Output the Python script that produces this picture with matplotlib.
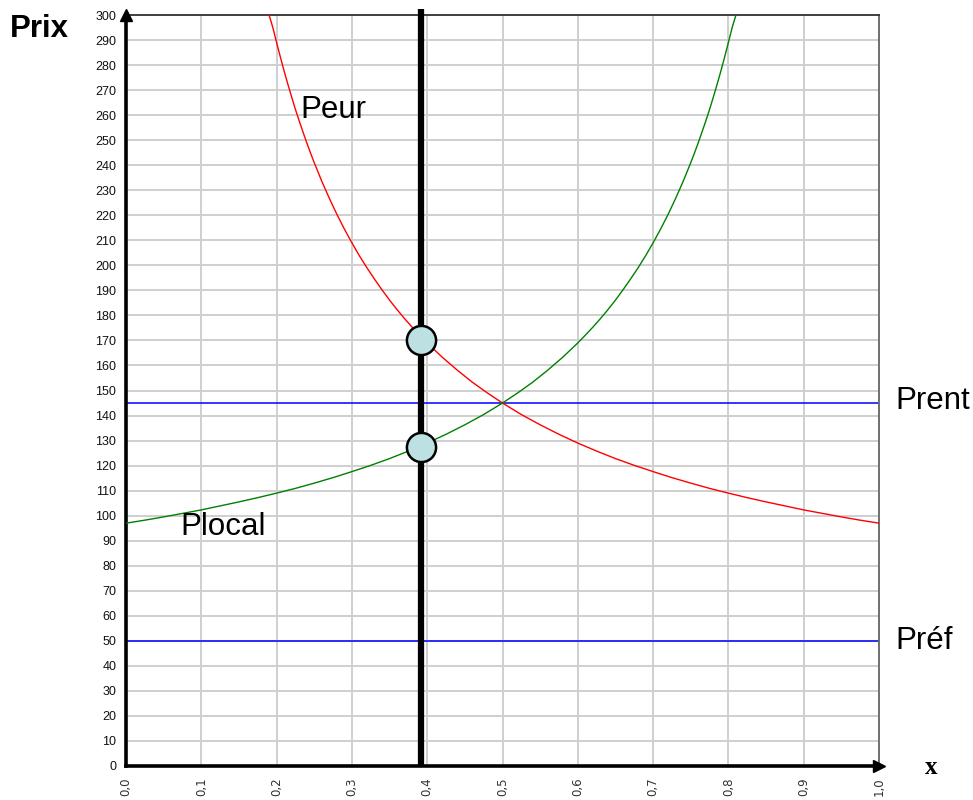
import matplotlib
matplotlib.use("Agg")
import matplotlib.pyplot as plt

# ---- data ----
peur_x = [0.190, 0.195, 0.200, 0.205, 0.210, 0.215, 0.220, 0.225, 0.230, 0.235, 0.240,
          0.245, 0.250, 0.260, 0.270, 0.280, 0.290, 0.300, 0.310, 0.320, 0.330, 0.340,
          0.350, 0.360, 0.370, 0.380, 0.390, 0.400, 0.420, 0.440, 0.460, 0.480, 0.500,
          0.525, 0.550, 0.575, 0.600, 0.625, 0.650, 0.675, 0.700, 0.725, 0.750, 0.775,
          0.800, 0.825, 0.850, 0.875, 0.900, 0.925, 0.950, 0.975, 1.000]
peur_y = [300.0, 295.0, 289.0, 283.2, 277.6, 272.3, 267.2, 262.3, 257.7, 253.3, 249.0,
          244.9, 241.0, 233.6, 226.8, 220.4, 214.5, 209.0, 203.8, 199.0, 194.5, 190.2,
          186.1, 182.3, 178.7, 175.3, 172.1, 169.0, 163.3, 158.1, 153.3, 149.0, 145.0,
          140.4, 136.3, 132.5, 129.0, 125.8, 122.8, 120.1, 117.6, 115.2, 113.0, 110.9,
          109.0, 107.2, 105.5, 103.9, 102.3, 100.9, 99.5, 98.2, 97.0]
plocal_x = [0.000, 0.025, 0.050, 0.075, 0.100, 0.125, 0.150, 0.175, 0.200, 0.225, 0.250,
            0.275, 0.300, 0.325, 0.350, 0.375, 0.400, 0.425, 0.450, 0.475, 0.500, 0.520,
            0.540, 0.560, 0.580, 0.600, 0.610, 0.620, 0.630, 0.640, 0.650, 0.660, 0.670,
            0.680, 0.690, 0.700, 0.710, 0.720, 0.730, 0.740, 0.750, 0.755, 0.760, 0.765,
            0.770, 0.775, 0.780, 0.785, 0.790, 0.795, 0.800, 0.805, 0.810]
plocal_y = [97.0, 98.2, 99.5, 100.9, 102.3, 103.9, 105.5, 107.2, 109.0, 110.9, 113.0,
            115.2, 117.6, 120.1, 122.8, 125.8, 129.0, 132.5, 136.3, 140.4, 145.0, 149.0,
            153.3, 158.1, 163.3, 169.0, 172.1, 175.3, 178.7, 182.3, 186.1, 190.2, 194.5,
            199.0, 203.8, 209.0, 214.5, 220.4, 226.8, 233.6, 241.0, 244.9, 249.0, 253.3,
            257.7, 262.3, 267.2, 272.3, 277.6, 283.2, 289.0, 295.0, 300.0]
prent = 145
pref = 50
x_choice = 0.392
point_values = [170, 127.5]
x_ticks = [0.0, 0.1, 0.2, 0.3, 0.4, 0.5, 0.6, 0.7, 0.8, 0.9, 1.0]
x_tick_labels = ["0,0", "0,1", "0,2", "0,3", "0,4", "0,5", "0,6", "0,7", "0,8", "0,9", "1,0"]
y_ticks = list(range(0, 301, 10))

plt.rcParams['font.family'] = ['Liberation Sans', 'DejaVu Sans']

fig = plt.figure(figsize=(9.73, 8.0), dpi=100)
ax = fig.add_axes([126/973, 1-766/800, (879-126)/973, (766-15)/800])
ax.set_xlim(0, 1)
ax.set_ylim(0, 300)

# grid
ax.set_xticks(x_ticks)
ax.set_yticks(y_ticks)
ax.grid(True, color='#cfcfcf', linewidth=1.4, zorder=0)
ax.tick_params(length=0)
ax.set_yticklabels([str(v) for v in y_ticks], fontsize=9, color='#111111')
ax.tick_params(axis='y', pad=7)
ax.set_xticklabels(x_tick_labels, rotation=90, fontsize=8.5,
                   family=['DejaVu Sans'], color='#333333')
ax.tick_params(axis='x', pad=8)
for lab in ax.get_xticklabels():
    lab.set_va('top')
    lab.set_ha('center')

# spines
ax.spines['left'].set_linewidth(2.6)
ax.spines['bottom'].set_linewidth(2.6)
ax.spines['left'].set_color('black')
ax.spines['bottom'].set_color('black')
ax.spines['top'].set_linewidth(1.3)
ax.spines['top'].set_color('#333333')
ax.spines['right'].set_linewidth(1.3)
ax.spines['right'].set_color('#666666')

# arrows at axis ends
ax.plot([0], [300], marker='^', markersize=8, color='black', clip_on=False, zorder=6)
ax.plot([1], [0], marker='>', markersize=8, color='black', clip_on=False, zorder=6)

# horizontal lines
ax.axhline(prent, color='#0000ff', linewidth=1.1, zorder=2)
ax.axhline(pref, color='#0000ff', linewidth=1.1, zorder=2)

# curves
ax.plot(peur_x, peur_y, color='#ff0000', linewidth=1.0, zorder=3)
ax.plot(plocal_x, plocal_y, color='#008000', linewidth=1.0, zorder=3)

# vertical black line
ax.plot([x_choice, x_choice], [0, 302.5], color='black', linewidth=4.5,
        solid_capstyle='butt', clip_on=False, zorder=4)

# points
ax.plot([x_choice] * len(point_values), point_values, linestyle='none', marker='o',
        markersize=21, markerfacecolor='#bde0e3', markeredgecolor='black',
        markeredgewidth=1.8, zorder=5)

# labels
ax.text(0.231, 262, "Peur", fontsize=22.5, va='center', ha='left')
ax.text(0.072, 95.5, "Plocal", fontsize=22.5, va='center', ha='left')
fig.text(895/973, 1-401/800, "Prent", fontsize=22.5, va='center', ha='left')
fig.text(895/973, 1-641/800, "Préf", fontsize=22.5, va='center', ha='left')
fig.text(10/973, 1-29/800, "Prix", fontsize=22.5, fontweight='bold', va='center', ha='left')
fig.text(931/973, 1-768/800, "x", fontsize=18, fontweight='bold',
         family=['Liberation Serif'], va='center', ha='center')

fig.savefig("out.png", dpi=100)
